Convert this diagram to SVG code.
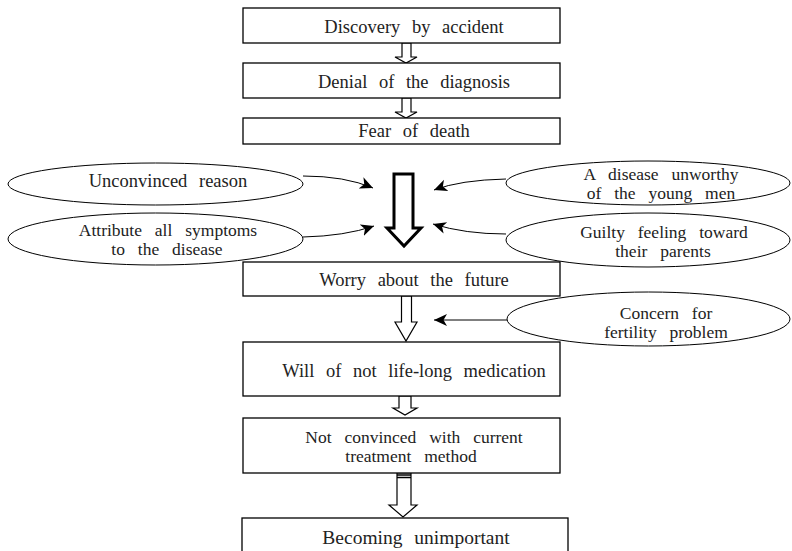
<svg xmlns="http://www.w3.org/2000/svg" width="792" height="551" viewBox="0 0 792 551">
<defs>
<style>
.box{fill:#fff;stroke:#000;stroke-width:1.3}
.ell{fill:#fff;stroke:#000;stroke-width:1}
.t{font-family:'Liberation Serif','Times New Roman','DejaVu Serif',serif;font-size:18.5px;fill:#222;text-anchor:middle;word-spacing:7px}
.t2{font-size:17.5px;word-spacing:8.5px}
.ha{fill:#fff;stroke:#000;stroke-width:1.2;stroke-linejoin:miter}
.big{fill:#fff;stroke:#000;stroke-width:3;stroke-linejoin:miter}
.con{fill:none;stroke:#000;stroke-width:1}
</style>
<marker id="ah" markerUnits="userSpaceOnUse" markerWidth="16" markerHeight="14" refX="13" refY="6" orient="auto">
<path d="M0,0 L13,6 L0,12 L3.5,6 z" fill="#000"/>
</marker>
</defs>
<rect width="792" height="551" fill="#fff"/>

<g id="connectors">
<polygon class="ha" points="402,43 411,43 411,57 417,57 406,63 395,57 402,57"/>
<polygon class="ha" points="402,98 411,98 411,112 417,112 406,118 395,112 402,112"/>
<polygon class="big" points="394,174 413,174 413,228 421,228 404,246 387,228 394,228"/>
<polygon class="ha" points="401.5,296 411.5,296 411.5,322 417,322 406,341 395,322 401.5,322"/>
<polygon class="ha" points="399,396 411,396 411,408 417,408 405,415 393,408 399,408"/>
<polygon class="ha" points="397,473 411,473 411,505 417,505 403,517 389,505 397,505"/>
<line x1="397" y1="475" x2="411" y2="475" stroke="#000" stroke-width="1.5"/>
<line x1="397" y1="477.5" x2="411" y2="477.5" stroke="#000" stroke-width="1.5"/>
<path class="con" d="M303,176 Q345,176 373,188" marker-end="url(#ah)"/>
<path class="con" d="M303,237 Q345,236 374,226" marker-end="url(#ah)"/>
<path class="con" d="M506,179 Q460,180 434,190" marker-end="url(#ah)"/>
<path class="con" d="M506,234 Q465,234 433,224" marker-end="url(#ah)"/>
<path class="con" d="M507,320 L434,320" marker-end="url(#ah)"/>
</g>

<g id="n1"><rect class="box" x="243" y="8" width="317" height="35"/><text class="t" x="414" y="33">Discovery by accident</text></g>
<g id="n2"><rect class="box" x="243" y="63" width="317" height="35"/><text class="t" x="414" y="88">Denial of the diagnosis</text></g>
<g id="n3"><rect class="box" x="243" y="118" width="317" height="26"/><text class="t" x="414" y="137">Fear of death</text></g>
<g id="n4"><rect class="box" x="243" y="262" width="317" height="34"/><text class="t" x="414" y="286">Worry about the future</text></g>
<g id="n5"><rect class="box" x="243" y="342" width="317" height="54"/><text class="t" x="414" y="377">Will of not life-long medication</text></g>
<g id="n6"><rect class="box" x="243" y="418" width="317" height="55"/><text class="t t2" x="414" y="443">Not convinced with current</text><text class="t t2" x="411" y="462">treatment method</text></g>
<g id="n7"><rect class="box" x="242" y="518" width="326" height="40"/><text class="t" x="416" y="544" style="font-size:19.5px">Becoming unimportant</text></g>

<g id="e1"><ellipse class="ell" cx="155.5" cy="184" rx="147.5" ry="21"/><text class="t" x="168" y="187">Unconvinced reason</text></g>
<g id="e2"><ellipse class="ell" cx="155.5" cy="239" rx="147.5" ry="26"/><text class="t t2" x="168" y="236">Attribute all symptoms</text><text class="t t2" x="167" y="254.5">to the disease</text></g>
<g id="e3"><ellipse class="ell" cx="648" cy="183" rx="142" ry="22"/><text class="t t2" x="661" y="180">A disease unworthy</text><text class="t t2" x="661" y="198.5">of the young men</text></g>
<g id="e4"><ellipse class="ell" cx="648" cy="240" rx="142" ry="27"/><text class="t t2" x="664" y="238">Guilty feeling toward</text><text class="t t2" x="663" y="256.5">their parents</text></g>
<g id="e5"><ellipse class="ell" cx="648.5" cy="319" rx="141.5" ry="27"/><text class="t t2" x="666" y="319">Concern for</text><text class="t t2" x="666" y="337.5">fertility problem</text></g>
</svg>
